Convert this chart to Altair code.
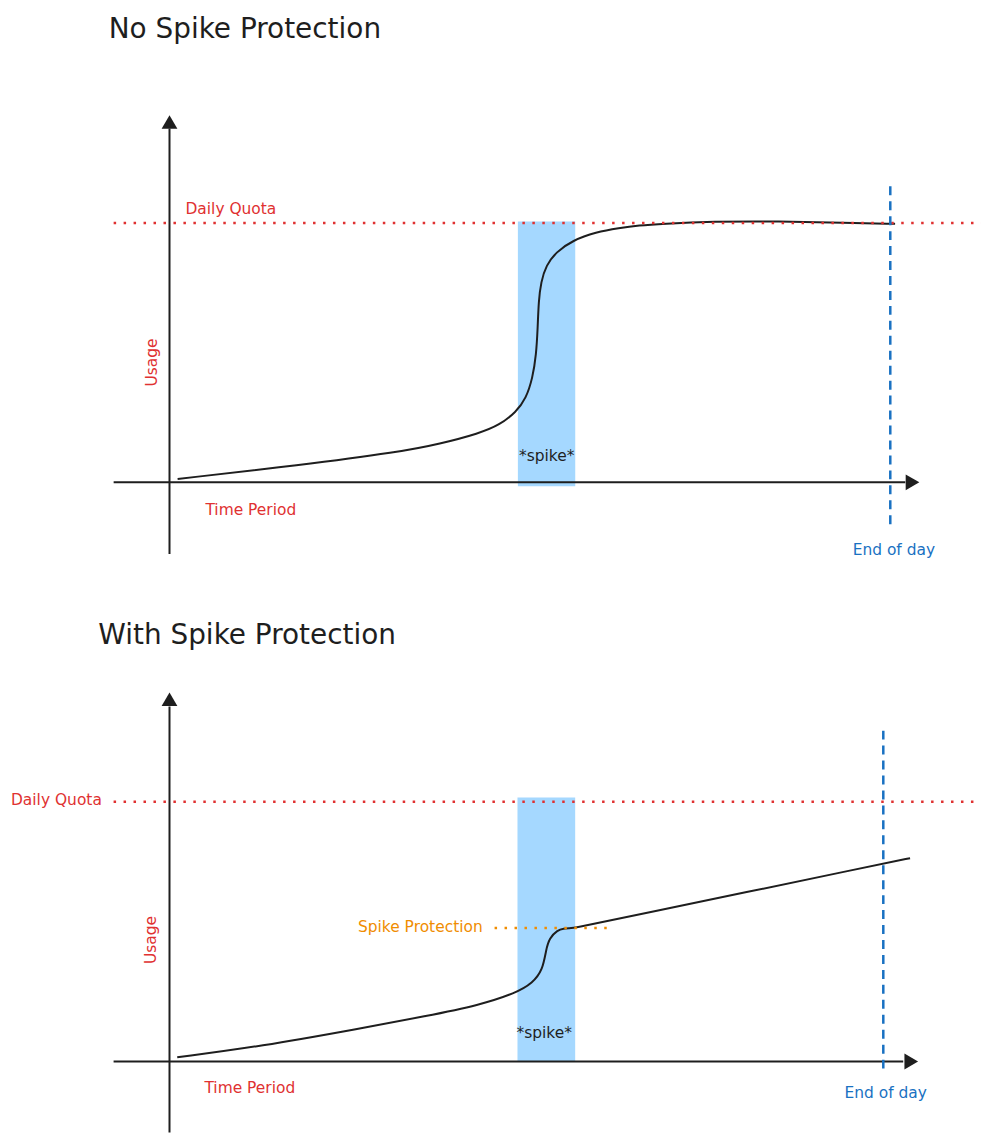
import altair as alt
import pandas as pd

# ---------------- values ----------------
titles = ["No Spike Protection", "With Spike Protection"]

# Top panel: usage curve without spike protection (hours, % of quota)
top_hours = [0.27, 4.35, 7.67, 9.00, 10.32, 10.99, 11.54, 11.87, 12.09, 12.21,
             12.26, 12.29, 12.37, 12.54, 12.87, 13.42, 14.20, 14.97, 15.63, 16.40,
             18.06, 20.28, 22.50, 24.16]
top_usage = [1.3, 6.6, 11.7, 14.8, 18.9, 22.1, 27.1, 32.3, 40.2, 49.2,
             59.5, 69.8, 77.3, 83.7, 88.8, 93.3, 96.5, 98.1, 99.1, 99.7,
             100.6, 100.7, 100.1, 99.7]
top_spike = [11.60, 13.51]

# Bottom panel: usage curve with spike protection
bot_hours = [0.26, 3.05, 6.40, 8.64, 10.42, 11.65, 12.21, 12.55, 12.66,
             12.77, 13.05, 13.25, 13.45, 13.60, 15.12, 24.0, 24.90]
bot_usage = [1.6, 5.8, 12.7, 17.5, 21.7, 26.4, 30.2, 35.3, 43.0,
             47.5, 50.6, 51.2, 51.3, 51.4, 55.0, 76.2, 78.3]
bot_spike = [11.70, 13.64]

daily_quota = 100
protection_level = 51.4
end_of_day = 24

RED = "#e03131"
ORANGE = "#f08c00"
BLUE = "#1971c2"
BAND = "#a5d8ff"
INK = "#1e1e1e"
FONT = "DejaVu Sans"
W = 975


def panel(title, hours, usage, spike, P):
    xs = alt.Scale(domain=P["xdom"], nice=False, zero=False)
    ys = alt.Scale(domain=P["ydom"], nice=False, zero=False)

    def XD(v):
        return alt.XDatum(v, scale=xs, axis=None)

    def YD(v):
        return alt.YDatum(v, scale=ys, axis=None)

    one = pd.DataFrame({"n": [0]})

    def txt(s, pos, color, size, align="left", angle=0):
        return alt.Chart(pd.DataFrame({"label": [s]})).mark_text(
            align=align, baseline="middle", color=color, fontSize=size,
            font=FONT, angle=angle
        ).encode(x=XD(pos[0]), y=YD(pos[1]), text="label:N")

    band = alt.Chart(pd.DataFrame({"start": [spike[0]], "end": [spike[1]]})).mark_rect(
        color=BAND, opacity=1
    ).encode(
        x=alt.X("start:Q", scale=xs, axis=None), x2="end:Q",
        y=YD(P["band"][0]), y2=alt.Y2Datum(P["band"][1]),
    )

    yaxis = alt.Chart(one).mark_rule(color=INK, strokeWidth=2).encode(
        x=XD(0), y=YD(P["yaxis"][0]), y2=alt.Y2Datum(P["yaxis"][1])
    )
    xaxis = alt.Chart(one).mark_rule(color=INK, strokeWidth=2).encode(
        y=YD(0), x=XD(P["xaxis"][0]), x2=alt.X2Datum(P["xaxis"][1])
    )
    yarrow = alt.Chart(one).mark_point(
        shape="triangle-up", filled=True, size=250, color=INK, opacity=1
    ).encode(x=XD(0), y=YD(P["yarrow"]))
    xarrow = alt.Chart(one).mark_point(
        shape="triangle-right", filled=True, size=250, color=INK, opacity=1
    ).encode(x=XD(P["xarrow"]), y=YD(0))

    curve = alt.Chart(pd.DataFrame({"hour": hours, "usage": usage})).mark_line(
        color=INK, strokeWidth=2, interpolate="basis"
    ).encode(
        x=alt.X("hour:Q", scale=xs, axis=None),
        y=alt.Y("usage:Q", scale=ys, axis=None),
    )

    quota = alt.Chart(one).mark_rule(color=RED, strokeWidth=2.5, strokeDash=[2.5, 7.5]).encode(
        y=YD(daily_quota), x=XD(P["quota_x"][0]), x2=alt.X2Datum(P["quota_x"][1])
    )
    eod = alt.Chart(one).mark_rule(color=BLUE, strokeWidth=2.5, strokeDash=[9, 6]).encode(
        x=XD(end_of_day), y=YD(P["eod_y"][0]), y2=alt.Y2Datum(P["eod_y"][1])
    )

    layers = [band, xaxis, yaxis, curve, quota, eod, yarrow, xarrow]

    if "protect_x" in P:
        layers.append(
            alt.Chart(one).mark_rule(color=ORANGE, strokeWidth=2.5, strokeDash=[2.5, 7.5]).encode(
                y=YD(protection_level), x=XD(P["protect_x"][0]), x2=alt.X2Datum(P["protect_x"][1])
            )
        )
        layers.append(txt("Spike Protection", P["protect_label"], ORANGE, 15.5))

    layers += [
        txt(title, P["title"], INK, 28),
        txt("Daily Quota", P["quota_label"], RED, 15.5),
        txt("Usage", P["usage_label"], RED, 15.5, align="center", angle=270),
        txt("Time Period", P["time_label"], RED, 15.5),
        txt("*spike*", P["spike_label"], INK, 15.5, align="center"),
        txt("End of day", P["eod_label"], BLUE, 15.5, align="center"),
    ]
    return alt.layer(*layers).properties(width=W, height=P["height"])


top_P = dict(
    xdom=[-5.3444, 27.0207], ydom=[-39.231, 181.923], height=575,
    yaxis=[-27.7, 136.5], yarrow=139.0,
    xaxis=[-1.86, 24.5], xarrow=24.74,
    quota_x=[-1.86, 27.02], band=[-1.5, 100.65], eod_y=[114.2, -18.1],
    title=(-2.025, 174.6), quota_label=(0.531, 105.6), usage_label=(-0.598, 46.2),
    time_label=(1.195, -10.8), spike_label=(12.56, 10.0), eod_label=(24.12, -26.2),
)
bot_P = dict(
    xdom=[-5.3967, 27.2852], ydom=[-28.02, 183.88], height=552,
    yaxis=[-27.3, 136.7], yarrow=139.5,
    xaxis=[-1.88, 24.67], xarrow=24.94,
    quota_x=[-1.88, 27.28], band=[0, 101.7], eod_y=[127.4, -4.2],
    protect_x=[10.93, 14.85], protect_label=(6.335, 51.8),
    title=(-2.397, 163.9), quota_label=(-5.33, 100.6), usage_label=(-0.637, 46.8),
    time_label=(1.173, -10.4), spike_label=(12.60, 11.1), eod_label=(24.08, -12.3),
)

top = panel(titles[0], top_hours, top_usage, top_spike, top_P)
bottom = panel(titles[1], bot_hours, bot_usage, bot_spike, bot_P)

chart = alt.vconcat(top, bottom, spacing=0, bounds="flush").properties(
    padding=0
).configure_view(stroke="transparent")

chart.save("out.html", embed_options={"renderer": "svg", "actions": False})
